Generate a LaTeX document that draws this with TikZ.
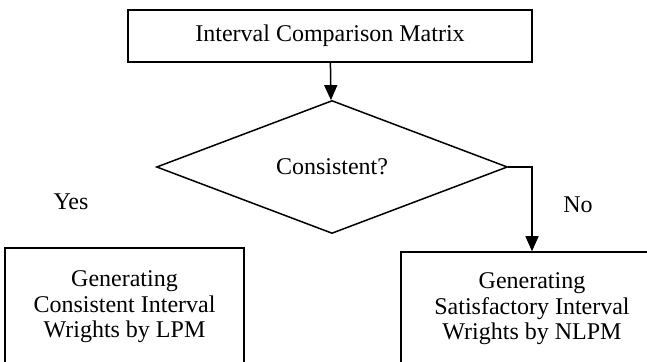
\documentclass[tikz,border=0pt]{standalone}
\usepackage{fontspec}
\setmainfont{Liberation Serif}
\usepackage{tikz}
\usetikzlibrary{shapes.geometric,arrows.meta}

\begin{document}
\begin{tikzpicture}[node distance=70pt, auto, font=\fontsize{12}{12.8}\selectfont, line width=0.75pt]
    \useasboundingbox (0,0) rectangle (323.5pt,-181pt);

    % Input matrix
    \node[draw, rectangle, minimum width=202pt, minimum height=26pt] (matrix) at (165pt,-18pt) {Interval Comparison Matrix};

    % Decision
    \node[draw, diamond, below of=matrix, xshift=1pt, yshift=4.5pt, minimum width=175.5pt, minimum height=66.5pt, inner sep=0pt] (check) {Consistent?};

    % Results
    \node[draw, rectangle, below of=check, xshift=-103.75pt, minimum width=119.5pt, minimum height=59pt, align=center] (lpm) {Generating\\Consistent Interval\\Wrights by LPM};
    \node[draw, rectangle, below of=check, xshift=100pt, yshift=-1pt, minimum width=131pt, minimum height=57pt, align=center] (nlpm) {Generating\\Satisfactory Interval\\Wrights by NLPM};

    % Labels
    \node (yes) at (35.5pt,-101pt) {Yes};
    \node (no) at (289pt,-102.5pt) {No};

    % Edges
    \draw[-{Triangle[length=7.5pt, width=6.5pt]}] (matrix) -- (check);
    \draw[-{Triangle[length=7.5pt, width=6.5pt]}] (check.east) -| (nlpm.north);
\end{tikzpicture}
\end{document}
